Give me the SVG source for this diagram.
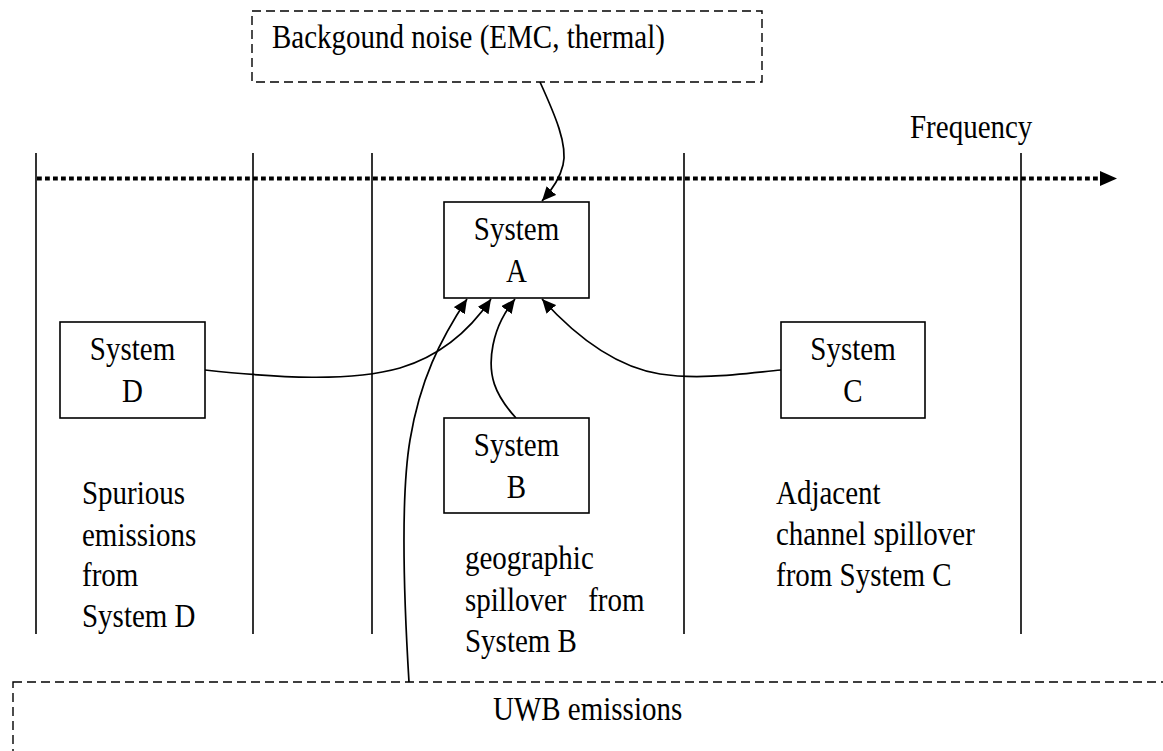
<svg xmlns="http://www.w3.org/2000/svg" width="1163" height="751" viewBox="0 0 1163 751">
<defs>
<style>
.t{font-family:"Liberation Serif","Times New Roman",serif;font-size:29px;fill:#000;white-space:pre}
.box{fill:#fff;stroke:#000;stroke-width:1.6}
.dash{fill:none;stroke:#000;stroke-width:1.4;stroke-dasharray:9 5}
.vl{fill:none;stroke:#000;stroke-width:1.6}
.axis{fill:none;stroke:#000;stroke-width:4;stroke-dasharray:4.8 3.2}
.conn{fill:none;stroke:#000;stroke-width:1.7;marker-end:url(#ah)}
</style>
<marker id="ah" markerUnits="userSpaceOnUse" markerWidth="15" markerHeight="13" refX="14" refY="6.5" orient="auto">
<path d="M0,0 L14,6.5 L0,13 z" fill="#000"/>
</marker>
</defs>
<rect width="1163" height="751" fill="#fff"/>

<g id="frequency-axis">
<line class="vl" x1="36" y1="153" x2="36" y2="634"/>
<line class="vl" x1="253" y1="153" x2="253" y2="634"/>
<line class="vl" x1="372" y1="153" x2="372" y2="634"/>
<line class="vl" x1="684" y1="153" x2="684" y2="634"/>
<line class="vl" x1="1021" y1="153" x2="1021" y2="634"/>
<line class="axis" x1="37" y1="178.5" x2="1100" y2="178.5"/>
<polygon points="1100,171 1117,178.5 1100,186" fill="#000"/>
<text class="t" transform="translate(910,138) scale(1,1.18)">Frequency</text>
</g>

<g id="labels">
<text class="t" transform="translate(82,504) scale(1,1.18)">Spurious</text>
<text class="t" transform="translate(82,546) scale(1,1.18)">emissions</text>
<text class="t" transform="translate(82,586) scale(1,1.18)">from</text>
<text class="t" transform="translate(82,627) scale(1,1.18)">System D</text>
<text class="t" transform="translate(465,569) scale(1,1.18)">geographic</text>
<text class="t" transform="translate(465,611) scale(1,1.18)">spillover   from</text>
<text class="t" transform="translate(465,652) scale(1,1.18)">System B</text>
<text class="t" transform="translate(776,504) scale(1,1.18)">Adjacent</text>
<text class="t" transform="translate(776,545) scale(1,1.18)">channel spillover</text>
<text class="t" transform="translate(776,586) scale(1,1.18)">from System C</text>
</g>

<g id="connectors">
<path class="conn" d="M540,82 C555,115 568,145 563,165 C560,178 552,190 542,201"/>
<path class="conn" d="M205,370 C280,378 350,382 400,368 C440,356 470,330 491,299"/>
<path class="conn" d="M781,370 C740,374 700,380 660,374 C610,366 570,330 542,299"/>
<path class="conn" d="M516,418 C495,395 487,375 493,345 C497,325 505,312 515,299"/>
<path class="conn" d="M409,682 C404,600 400,500 410,440 C420,380 440,340 467,299"/>
</g>

<g id="node-background-noise">
<rect class="dash" x="252" y="11" width="510" height="71"/>
<text class="t" transform="translate(272,48) scale(1,1.18)">Backgound noise (EMC, thermal)</text>
</g>

<g id="node-system-a">
<rect class="box" x="444" y="202" width="145" height="96"/>
<text class="t" text-anchor="middle" transform="translate(516.5,240) scale(1,1.18)">System</text>
<text class="t" text-anchor="middle" transform="translate(516.5,282) scale(1,1.18)">A</text>
</g>

<g id="node-system-b">
<rect class="box" x="444" y="418" width="145" height="95"/>
<text class="t" text-anchor="middle" transform="translate(516.5,456) scale(1,1.18)">System</text>
<text class="t" text-anchor="middle" transform="translate(516.5,498) scale(1,1.18)">B</text>
</g>

<g id="node-system-c">
<rect class="box" x="781" y="322" width="144" height="96"/>
<text class="t" text-anchor="middle" transform="translate(853,360) scale(1,1.18)">System</text>
<text class="t" text-anchor="middle" transform="translate(853,402) scale(1,1.18)">C</text>
</g>

<g id="node-system-d">
<rect class="box" x="60" y="322" width="145" height="96"/>
<text class="t" text-anchor="middle" transform="translate(132.5,360) scale(1,1.18)">System</text>
<text class="t" text-anchor="middle" transform="translate(132.5,402) scale(1,1.18)">D</text>
</g>

<g id="node-uwb">
<rect class="dash" x="13" y="682" width="1170" height="100"/>
<text class="t" transform="translate(493,720) scale(1,1.18)">UWB emissions</text>
</g>
</svg>
